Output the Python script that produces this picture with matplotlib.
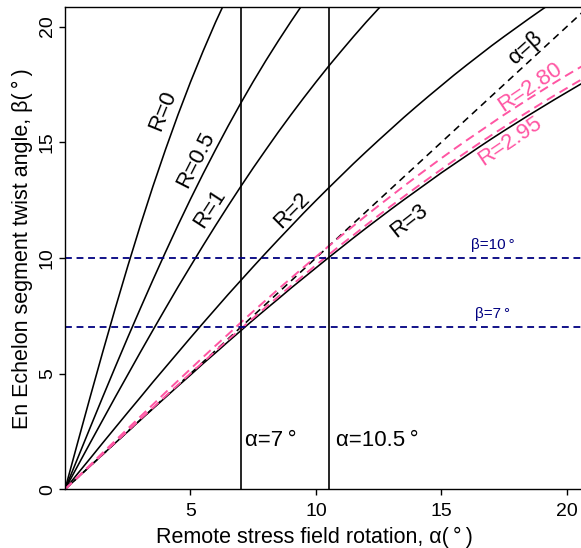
import matplotlib
matplotlib.use('Agg')
import matplotlib.pyplot as plt

# ---- data ----
alpha = [0.0, 0.5, 1.0, 1.5, 2.0, 2.5, 3.0, 3.5, 4.0, 4.5, 5.0, 5.5, 6.0, 6.5, 7.0,
         7.5, 8.0, 8.5, 9.0, 9.5, 10.0, 10.5, 11.0, 11.5, 12.0, 12.5, 13.0, 13.5,
         14.0, 14.5, 15.0, 15.5, 16.0, 16.5, 17.0, 17.5, 18.0, 18.5, 19.0, 19.5,
         20.0, 20.5, 21.0]

beta_R0 = [0.00, 2.00, 3.98, 5.92, 7.81, 9.64, 11.40, 13.08, 14.67, 16.18, 17.60,
           18.93, 20.19, 21.36, 22.46]
beta_R05 = [0.00, 1.33, 2.66, 3.98, 5.28, 6.56, 7.81, 9.04, 10.24, 11.41, 12.54,
            13.63, 14.68, 15.70, 16.68, 17.62, 18.52, 19.38, 20.21, 21.01, 21.77]
beta_R1 = [0.00, 1.00, 2.00, 2.99, 3.98, 4.95, 5.92, 6.87, 7.81, 8.74, 9.64, 10.53,
           11.40, 12.25, 13.08, 13.89, 14.67, 15.44, 16.18, 16.90, 17.60, 18.28,
           18.93, 19.57, 20.19, 20.78, 21.36]
beta_R2 = [0.00, 0.67, 1.33, 2.00, 2.66, 3.32, 3.97, 4.63, 5.27, 5.91, 6.55, 7.18,
           7.80, 8.42, 9.02, 9.62, 10.21, 10.79, 11.36, 11.93, 12.48, 13.02, 13.55,
           14.08, 14.59, 15.09, 15.58, 16.07, 16.54, 17.00, 17.45, 17.90, 18.33,
           18.75, 19.17, 19.57, 19.96, 20.35, 20.73, 21.10]
beta_R280 = [0.00, 0.53, 1.05, 1.58, 2.10, 2.62, 3.14, 3.66, 4.18, 4.69, 5.20, 5.71,
             6.21, 6.70, 7.20, 7.69, 8.17, 8.65, 9.12, 9.59, 10.05, 10.50, 10.95,
             11.39, 11.83, 12.26, 12.68, 13.10, 13.51, 13.91, 14.31, 14.70, 15.08,
             15.45, 15.82, 16.19, 16.54, 16.89, 17.23, 17.57, 17.90, 18.22, 18.53]
beta_R295 = [0.00, 0.51, 1.01, 1.52, 2.02, 2.52, 3.03, 3.52, 4.02, 4.51, 5.01, 5.49,
             5.98, 6.46, 6.93, 7.40, 7.87, 8.33, 8.79, 9.24, 9.69, 10.13, 10.57,
             10.99, 11.42, 11.84, 12.25, 12.65, 13.05, 13.44, 13.83, 14.21, 14.58,
             14.95, 15.31, 15.66, 16.01, 16.35, 16.69, 17.02, 17.34, 17.66, 17.97]
beta_R3 = [0.00, 0.50, 1.00, 1.50, 2.00, 2.49, 2.99, 3.48, 3.97, 4.46, 4.94, 5.43,
           5.90, 6.38, 6.85, 7.32, 7.78, 8.23, 8.69, 9.13, 9.57, 10.01, 10.44, 10.87,
           11.29, 11.70, 12.11, 12.51, 12.90, 13.29, 13.68, 14.05, 14.42, 14.79,
           15.15, 15.50, 15.84, 16.18, 16.51, 16.84, 17.16, 17.48, 17.78]

diag = [0.0, 21.0]
vlines_alpha = [7.0, 10.5]
hlines_beta = [7.0, 10.0]
xticks = [5, 10, 15, 20]
yticks = [0, 5, 10, 15, 20]

plt.rcParams['font.family'] = ['Liberation Sans', 'DejaVu Sans']

PINK = '#ff55a3'
NAVY = '#000080'
TS = '\u2009'

fig = plt.figure(figsize=(5.81, 5.48), dpi=100)
ax = fig.add_axes([65 / 581, 1 - 489.3 / 548, 1 - 65 / 581, (489.3 - 7.3) / 548])

lw = 1.15
for b in [beta_R0, beta_R05, beta_R1, beta_R2, beta_R3]:
    ax.plot(alpha[:len(b)], b, color='black', lw=lw, solid_capstyle='butt')
ax.plot(diag, diag, color='black', lw=lw, dashes=(4.5, 3.2))
ax.plot(alpha[:len(beta_R280)], beta_R280, color=PINK, lw=1.4, dashes=(4.8, 2.8))
ax.plot(alpha[:len(beta_R295)], beta_R295, color=PINK, lw=1.4, dashes=(4.8, 2.8))
for a in vlines_alpha:
    ax.axvline(a, color='black', lw=1.2)
for b in hlines_beta:
    ax.axhline(b, color=NAVY, lw=1.3, dashes=(3.8, 2.6))

ax.set_xlim(0, 20.56)
ax.set_ylim(0, 20.83)
ax.set_xticks(xticks)
ax.set_yticks(yticks)
ax.tick_params(axis='both', direction='out', length=4.6, width=1.0, labelsize=14,
               color='black')
ax.tick_params(axis='x', pad=5)
ax.tick_params(axis='y', pad=2, labelrotation=90)
for t in ax.get_yticklabels():
    t.set_va('center')
for s in ['left', 'bottom', 'top']:
    ax.spines[s].set_linewidth(1.0)
ax.spines['right'].set_visible(False)

ax.set_xlabel(f'Remote stress field rotation, α({TS}°{TS})', fontsize=15.5, labelpad=5)
ax.xaxis.label.set_x(0.483)
ax.set_ylabel(f'En Echelon segment twist angle, β({TS}°{TS})', fontsize=15.5, labelpad=4)

def lab(x, y, s, rot, color='black', size=16):
    ax.text(x, y, s, rotation=rot, color=color, fontsize=size, ha='center',
            va='center', rotation_mode='anchor')

lab(3.90, 16.34, 'R=0', 68)
lab(5.22, 14.23, 'R=0.5', 63)
lab(5.78, 12.15, 'R=1', 57)
lab(9.04, 12.07, 'R=2', 45)
lab(13.71, 11.59, 'R=3', 38)
lab(18.33, 19.06, 'α=β', 42)
lab(18.53, 17.37, 'R=2.80', 34, color=PINK)
lab(17.73, 15.05, 'R=2.95', 34, color=PINK)
lab(8.21, 2.13, f'α=7{TS}°', 0)
lab(12.43, 2.13, f'α=10.5{TS}°', 0)
lab(17.05, 10.55, f'β=10{TS}°', 0, color=NAVY, size=11)
lab(17.05, 7.57, f'β=7{TS}°', 0, color=NAVY, size=11)

fig.savefig('out.png', dpi=100)
